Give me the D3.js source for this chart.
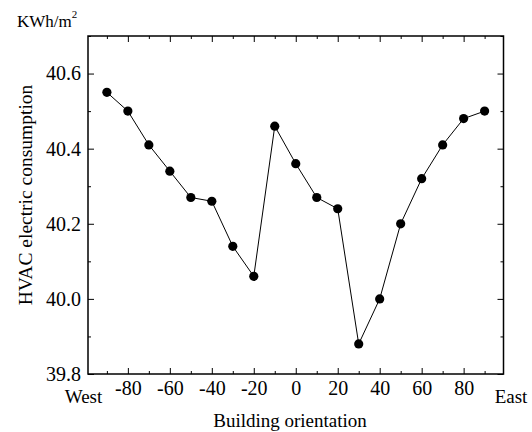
<!DOCTYPE html>
<html>
<head>
<meta charset="utf-8">
<script src="https://cdn.jsdelivr.net/npm/d3@7"></script>
<style>
  body { margin: 0; background: #fff; }
  text { font-family: "Liberation Serif", "DejaVu Serif", serif; fill: #000; }
</style>
</head>
<body>
<svg id="chart" width="532" height="432"></svg>
<script>
// orientation angle (deg) vs HVAC consumption (KWh/m2)
const orientations = [-90, -80, -70, -60, -50, -40, -30, -20, -10, 0, 10, 20, 30, 40, 50, 60, 70, 80, 90];
const consumption = [40.55, 40.50, 40.41, 40.34, 40.27, 40.26, 40.14, 40.06, 40.46, 40.36, 40.27, 40.24, 39.88, 40.00, 40.20, 40.32, 40.41, 40.48, 40.50];
const xTickLabels = [-80, -60, -40, -20, 0, 20, 40, 60, 80];
const yTickLabels = [39.8, 40.0, 40.2, 40.4, 40.6];

const margin = { left: 88, top: 36, right: 28.5, bottom: 58 };
const width = 532, height = 432;
const SERIF = "Liberation Serif, DejaVu Serif, serif";

const svg = d3.select("#chart");

const x = d3.scaleLinear().domain([-99, 99]).range([margin.left, width - margin.right]);
const y = d3.scaleLinear().domain([39.8, 40.7]).range([height - margin.bottom, margin.top]);

const x0 = x.range()[0], x1 = x.range()[1];
const y0 = y.range()[0], y1 = y.range()[1];

function styleAxis(g) {
    g.attr("font-family", SERIF).attr("font-size", 20);
    g.select(".domain").remove();
    g.selectAll("line").attr("stroke", "#000").attr("stroke-width", 1);
    g.selectAll("text").attr("fill", "#000");
}

// minor ticks every 10 / 0.1, majors every 20 / 0.2
const xMinor = d3.range(-90, 100, 10).filter(v => v % 20 != 0);
const yMinor = [39.9, 40.1, 40.3, 40.5, 40.7];

// bottom
svg.append("g")
    .attr("transform", `translate(0,${y0})`)
    .call(d3.axisBottom(x).tickValues(xTickLabels).tickSize(-6).tickPadding(7)
        .tickFormat(d => String(d)))
    .call(styleAxis);
svg.append("g")
    .attr("transform", `translate(0,${y0})`)
    .call(d3.axisBottom(x).tickValues(xMinor).tickSize(-3).tickFormat(""))
    .call(styleAxis);
// top
svg.append("g")
    .attr("transform", `translate(0,${y1})`)
    .call(d3.axisTop(x).tickValues(xTickLabels).tickSize(-6).tickFormat(""))
    .call(styleAxis);
svg.append("g")
    .attr("transform", `translate(0,${y1})`)
    .call(d3.axisTop(x).tickValues(xMinor).tickSize(-3).tickFormat(""))
    .call(styleAxis);
// left
svg.append("g")
    .attr("transform", `translate(${x0},0)`)
    .call(d3.axisLeft(y).tickValues(yTickLabels).tickSize(-6).tickPadding(7)
        .tickFormat(d3.format(".1f")))
    .call(styleAxis);
svg.append("g")
    .attr("transform", `translate(${x0},0)`)
    .call(d3.axisLeft(y).tickValues(yMinor).tickSize(-3).tickFormat(""))
    .call(styleAxis);
// right
svg.append("g")
    .attr("transform", `translate(${x1},0)`)
    .call(d3.axisRight(y).tickValues(yTickLabels).tickSize(-6).tickFormat(""))
    .call(styleAxis);
svg.append("g")
    .attr("transform", `translate(${x1},0)`)
    .call(d3.axisRight(y).tickValues(yMinor).tickSize(-3).tickFormat(""))
    .call(styleAxis);

// frame
svg.append("rect")
    .attr("x", x0).attr("y", y1)
    .attr("width", x1 - x0).attr("height", y0 - y1)
    .attr("fill", "none").attr("stroke", "#000").attr("stroke-width", 1.5);

const points = orientations.map((o, i) => ({ o: o, v: consumption[i] }));

svg.append("path")
    .datum(points)
    .attr("fill", "none")
    .attr("stroke", "#000")
    .attr("stroke-width", 1)
    .attr("d", d3.line().x(d => x(d.o)).y(d => y(d.v)));

svg.selectAll("circle.pt")
    .data(points)
    .enter()
    .append("circle")
    .attr("class", "pt")
    .attr("cx", d => x(d.o))
    .attr("cy", d => y(d.v))
    .attr("r", 4.6)
    .attr("fill", "#000");

// labels
svg.append("text")
    .attr("x", 83.5).attr("y", 403)
    .attr("text-anchor", "middle")
    .style("font-size", "19px")
    .text("West");
svg.append("text")
    .attr("x", 511).attr("y", 403)
    .attr("text-anchor", "middle")
    .style("font-size", "19px")
    .text("East");
svg.append("text")
    .attr("x", 290).attr("y", 427)
    .attr("text-anchor", "middle")
    .style("font-size", "19px")
    .text("Building orientation");
svg.append("text")
    .attr("transform", "translate(31.5,195) rotate(-90)")
    .attr("text-anchor", "middle")
    .style("font-size", "19.5px")
    .text("HVAC electric consumption");

const unit = svg.append("text")
    .attr("x", 17).attr("y", 27)
    .style("font-size", "17px");
unit.append("tspan").text("KWh/m");
unit.append("tspan").attr("dy", -9).style("font-size", "11px").text("2");
</script>
</body>
</html>
